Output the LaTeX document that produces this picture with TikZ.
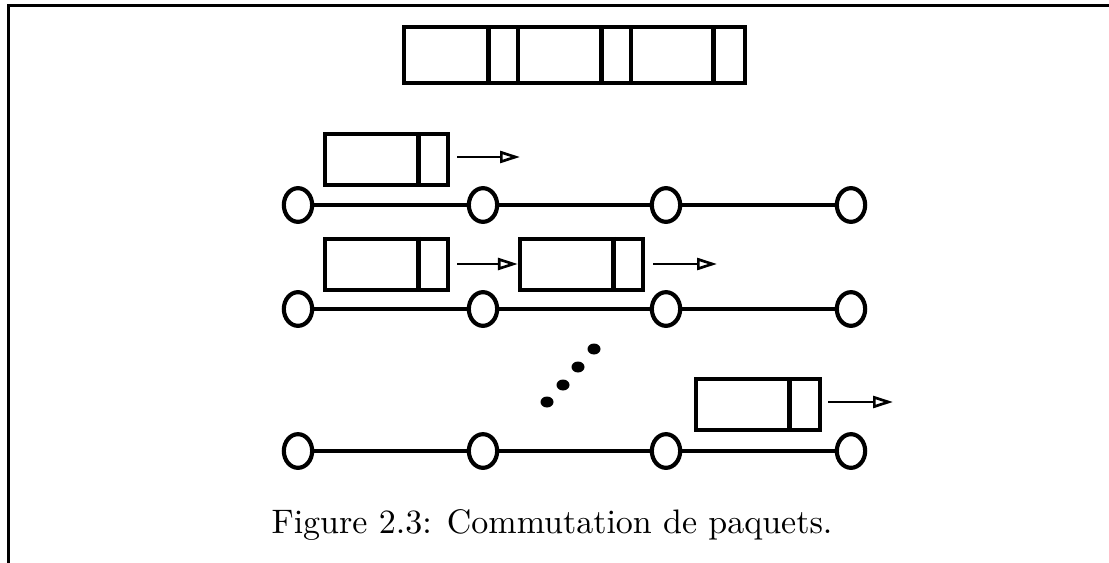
\documentclass[tikz,border=0pt]{standalone}
\usetikzlibrary{shapes.geometric,arrows.meta,calc}
\begin{document}
\begin{tikzpicture}[x=0.3pt,y=-0.3pt,
  station/.style={draw,ellipse,line width=1.25pt,minimum width=8.5pt,minimum height=10.1pt,inner sep=0pt,fill=white},
  link/.style={line width=1.25pt},
  packet/.style={draw,rectangle,line width=1.2pt,minimum width=37pt,minimum height=15.3pt,inner sep=0pt},
  divider/.style={line width=1.5pt},
  move/.style={line width=0.65pt,-{Triangle[open,length=6pt,width=3.6pt,line width=0.8pt]}},
  frame/.style={line width=0.9pt},
  dot/.style={fill=black,draw=none}]
\useasboundingbox (0,0) rectangle (1109,563);
% frame
\draw[frame] (8,566) -- (8,6) -- (1112,6);
% top bar of packets
\draw[line width=1.2pt] (404,27) rectangle (745,83);
\draw[divider] (488,27) -- (488,83);
\draw[line width=1.2pt] (518,27) -- (518,83);
\draw[divider] (601,27) -- (601,83);
\draw[line width=1.2pt] (631,27) -- (631,83);
\draw[divider] (713,27) -- (713,83);
% stations
\foreach \r/\y in {1/205,2/309,3/451}{
  \node[station] (s\r1) at (298,\y) {};
  \node[station] (s\r2) at (483,\y) {};
  \node[station] (s\r3) at (666,\y) {};
  \node[station] (s\r4) at (851,\y) {};
  \draw[link] (s\r1) -- (s\r2);
  \draw[link] (s\r2) -- (s\r3);
  \draw[link] (s\r3) -- (s\r4);
}
% packets
\node[packet] (p1) at (386.5,160) {};
\draw[divider] (418,133) -- (418,187);
\coordinate (b1) at (457,157);
\coordinate (a1) at (520,157);
\draw[move] (b1) -- (a1);

\node[packet] (p21) at (386.5,264) {};
\draw[divider] (418,237) -- (418,291);
\node[packet] (p22) at (581.5,264) {};
\draw[divider] (613,237) -- (613,291);
\coordinate (b21) at (457,264);
\draw[move] (b21) -- (p22.west);
\coordinate (b22) at (653,264);
\coordinate (a22) at (717,264);
\draw[move] (b22) -- (a22);

\node[packet] (p3) at (758,404) {};
\draw[divider] (789,377) -- (789,431);
\coordinate (b3) at (828,402);
\coordinate (a3) at (893,402);
\draw[move] (b3) -- (a3);
% dots
\foreach \x/\y in {547/402,563/385,578/367,594/349}{
  \fill[dot] (\x,\y) ellipse [x radius=6.5,y radius=5.5];
}
% caption
\node[anchor=base,inner sep=0pt,font=\fontsize{10.2}{12}\selectfont] (cap) at (552,533) {Figure 2.3: Commutation de paquets.};
\end{tikzpicture}
\end{document}
